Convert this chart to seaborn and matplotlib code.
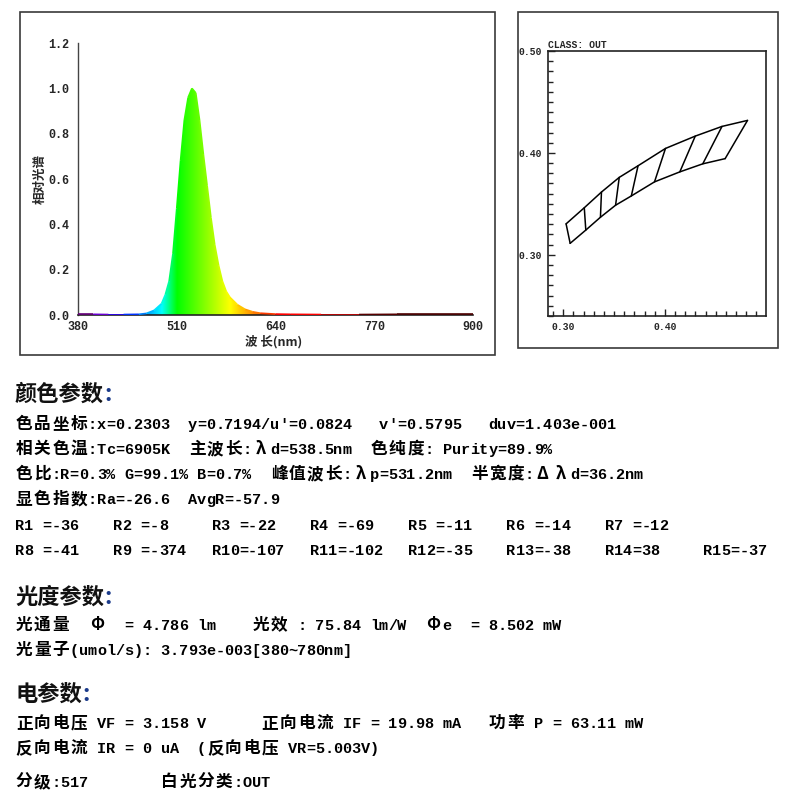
import numpy as np
import pandas as pd
import matplotlib
matplotlib.use('Agg')
import matplotlib.pyplot as plt
from matplotlib import font_manager
from matplotlib.patches import Rectangle, Polygon
from matplotlib.collections import LineCollection
from matplotlib.ticker import MultipleLocator, FixedLocator, FormatStrFormatter
import seaborn as sns

###############################################################################

# relative spectrum
wavelengths = [380, 400, 420, 440, 460, 470, 480, 490, 495, 500, 505, 510,
               515, 520, 525, 530, 535, 540, 545, 550, 555, 560, 565, 570,
               575, 580, 590, 600, 610, 620, 640, 660, 700, 750, 800, 850, 900]
rel_power = [0.003, 0.003, 0.002, 0.002, 0.003, 0.007, 0.02, 0.05, 0.09,
             0.15, 0.27, 0.47, 0.68, 0.86, 0.96, 1.0, 0.98, 0.86, 0.71, 0.57,
             0.43, 0.31, 0.22, 0.15, 0.105, 0.078, 0.045, 0.025, 0.014, 0.008,
             0.004, 0.003, 0.002, 0.002, 0.003, 0.003, 0.003]

spec_xticks = [380, 510, 640, 770, 900]
spec_yticks = [0.0, 0.2, 0.4, 0.6, 0.8, 1.0, 1.2]

# white bin quadrangles (upper and lower edge corners)
bin_top_x = [0.3028, 0.3207, 0.3376, 0.3551, 0.3736, 0.4006, 0.4299, 0.4562, 0.4813]
bin_top_y = [0.3304, 0.3462, 0.3616, 0.3760, 0.3874, 0.4044, 0.4165, 0.4260, 0.4319]
bin_bot_x = [0.3068, 0.3222, 0.3366, 0.3515, 0.3670, 0.3898, 0.4147, 0.4373, 0.4593]
bin_bot_y = [0.3113, 0.3243, 0.3369, 0.3487, 0.3578, 0.3716, 0.3814, 0.3893, 0.3944]

cie_xticks = [0.30, 0.40]
cie_yticks = [0.30, 0.40, 0.50]

color_lines = [
    "色品坐标:x=0.2303  y=0.7194/u'=0.0824   v'=0.5795   duv=1.403e-001",
    "相关色温:Tc=6905K  主波长:λd=538.5nm  色纯度: Purity=89.9%",
    "色比:R=0.3% G=99.1% B=0.7%  峰值波长:λp=531.2nm  半宽度:Δλd=36.2nm",
    "显色指数:Ra=-26.6  AvgR=-57.9",
]
r_values = [-36, -8, -22, -69, -11, -14, -12,
            -41, -374, -107, -102, -35, -38, 38, -37]
photo_lines = [
    "光通量  Φ  = 4.786 lm    光效 : 75.84 lm/W  Φe  = 8.502 mW",
    "光量子(umol/s): 3.793e-003[380~780nm]",
]
elec_lines = [
    "正向电压 VF = 3.158 V      正向电流 IF = 19.98 mA   功率 P = 63.11 mW",
    "反向电流 IR = 0 uA  (反向电压 VR=5.003V)",
]
grade_line = "分级:517        白光分类:OUT"

###############################################################################

sns.set_style('white')

CJK_FAMILY = ['Noto Sans CJK SC', 'DejaVu Sans']
LAT_NAME = 'Liberation Mono'
LAT_SIZE = 11
for cand, sz in [('Liberation Sans Narrow', 13)]:
    try:
        font_manager.findfont(cand, fallback_to_default=False)
        LAT_NAME, LAT_SIZE = cand, sz
        break
    except ValueError:
        pass
LAT_FAMILY = [LAT_NAME, 'DejaVu Sans']
TICK_FAMILY = ['Liberation Mono', 'DejaVu Sans Mono']
plt.rcParams['font.family'] = CJK_FAMILY

PX = 800.0
HALF = 9.1
FULL = 18.2


def wavelength_rgb(w):
    if w < 440:
        r, g, b = (440 - w) / 60.0, 0.0, 1.0
    elif w < 490:
        r, g, b = 0.0, (w - 440) / 50.0, 1.0
    elif w < 510:
        r, g, b = 0.0, 1.0, (510 - w) / 20.0
    elif w < 580:
        r, g, b = (w - 510) / 70.0, 1.0, 0.0
    elif w < 645:
        r, g, b = 1.0, (645 - w) / 65.0, 0.0
    else:
        r, g, b = 1.0, 0.0, 0.0
    if w < 420:
        f = 0.3 + 0.7 * (w - 380) / 40.0
    elif w <= 700:
        f = 1.0
    else:
        f = max(0.3 + 0.7 * (780 - w) / 80.0, 0.3)
    return (r * f, g * f, b * f)


fig = plt.figure(figsize=(8, 8), dpi=100)


def put_line(x_px, y_px, s, cjk_size=12):
    # monospace layout: CJK cells are twice as wide as latin cells
    base = y_px + 6
    x = x_px
    for ch in s:
        wide = ord(ch) >= 0x2E80 or ch in 'ΦλΔ'
        w = FULL if wide else HALF
        if ch != ' ':
            if wide:
                fam, size = CJK_FAMILY, cjk_size
            else:
                fam, size = LAT_FAMILY, LAT_SIZE
            fig.text((x + w / 2) / PX, 1 - base / PX, ch, ha='center',
                     va='baseline', family=fam, fontsize=size,
                     weight='bold', color='black')
        x += w


def put_heading(x_px, y_px, s):
    fig.text(x_px / PX, 1 - (y_px + 8) / PX, s, ha='left', va='baseline',
             family=CJK_FAMILY, fontsize=16, weight='bold', color='#111111')
    fig.text((x_px + 22 * len(s) + 1) / PX, 1 - (y_px + 8) / PX, ':',
             ha='left', va='baseline', family=CJK_FAMILY, fontsize=16,
             weight='bold', color='#1a3a8a')


# outer frames
for (x0, y0, x1, y1) in [(20, 12, 495, 355), (518, 12, 778, 348)]:
    fig.add_artist(Rectangle((x0 / PX, 1 - y1 / PX), (x1 - x0) / PX,
                             (y1 - y0) / PX, transform=fig.transFigure,
                             fill=False, edgecolor='#3a3a3a', linewidth=1.2))

###############################################################################
# spectrum

ax = fig.add_axes([78 / PX, 1 - 315 / PX, 395 / PX, 272 / PX])

verts = np.column_stack([np.r_[wavelengths[0], wavelengths, wavelengths[-1]],
                         np.r_[0, rel_power, 0]])
clip = Polygon(verts, closed=True, facecolor='none', edgecolor='none')
ax.add_patch(clip)
grad_wl = np.linspace(380, 900, 1041)
grad = np.array([wavelength_rgb(w) for w in grad_wl])[np.newaxis, :, :]
im = ax.imshow(grad, extent=[380, 900, 0, 1.2], aspect='auto',
               origin='lower', interpolation='bilinear')
im.set_clip_path(clip)

pts = np.column_stack([wavelengths, rel_power])
segs = np.stack([pts[:-1], pts[1:]], axis=1)
seg_cols = [wavelength_rgb(0.5 * (a + b))
            for a, b in zip(wavelengths[:-1], wavelengths[1:])]
ax.add_collection(LineCollection(segs, colors=seg_cols, linewidths=1.2,
                                 zorder=3))

ax.set_xlim(380, 900)
ax.set_ylim(0, 1.2)
ax.set_xticks(spec_xticks)
ax.set_yticks(spec_yticks)
ax.yaxis.set_major_formatter(FormatStrFormatter('%.1f'))
for side in ['top', 'right']:
    ax.spines[side].set_visible(False)
ax.spines['left'].set_color('#444444')
ax.spines['left'].set_linewidth(1.0)
ax.spines['bottom'].set_color('#222222')
ax.spines['bottom'].set_linewidth(1.2)
ax.tick_params(axis='y', direction='out', length=4, width=1,
               color='#444444', pad=2)
ax.tick_params(axis='x', direction='out', length=2, width=1,
               color='#222222', pad=2)
for lab in ax.get_xticklabels() + ax.get_yticklabels():
    lab.set_family(TICK_FAMILY)
    lab.set_fontsize(8.5)
    lab.set_fontweight('bold')
ax.text(0.496, -0.099, '波 长(nm)', transform=ax.transAxes, ha='center',
        va='center', family=CJK_FAMILY, fontsize=9, weight='bold')
ax.text((40 - 78) / 395.0, 0.5, '相对光谱', transform=ax.transAxes,
        ha='center', va='center', rotation=90, family=CJK_FAMILY,
        fontsize=9, weight='bold')

###############################################################################
# white bin chart

ax2 = fig.add_axes([548 / PX, 1 - 316 / PX, 218 / PX, 265 / PX])

rows = []
for i in range(len(bin_top_x)):
    rows.append(('top', bin_top_x[i], bin_top_y[i]))
for i in range(len(bin_bot_x)):
    rows.append(('bot', bin_bot_x[i], bin_bot_y[i]))
for i in range(len(bin_top_x)):
    rows.append(('side%d' % i, bin_top_x[i], bin_top_y[i]))
    rows.append(('side%d' % i, bin_bot_x[i], bin_bot_y[i]))
bins_df = pd.DataFrame(rows, columns=['seg', 'x', 'y'])

sns.lineplot(data=bins_df, x='x', y='y', units='seg', estimator=None,
             sort=False, color='black', linewidth=1.1, ax=ax2)

ax2.set_xlim(0.285, 0.4995)
ax2.set_ylim(0.24, 0.50)
ax2.set_xlabel('')
ax2.set_ylabel('')
ax2.xaxis.set_major_locator(FixedLocator(cie_xticks))
ax2.yaxis.set_major_locator(FixedLocator(cie_yticks))
ax2.xaxis.set_minor_locator(MultipleLocator(0.01))
ax2.yaxis.set_minor_locator(MultipleLocator(0.01))
ax2.xaxis.set_major_formatter(FormatStrFormatter('%.2f'))
ax2.yaxis.set_major_formatter(FormatStrFormatter('%.2f'))
for side in ax2.spines:
    ax2.spines[side].set_color('#222222')
    ax2.spines[side].set_linewidth(1.2)
ax2.tick_params(which='major', direction='in', length=5, width=1.0,
                color='#222222', pad=4, bottom=True, left=True)
ax2.tick_params(which='minor', direction='in', length=3.5, width=1.0,
                color='#222222', bottom=True, left=True)
for lab in ax2.get_xticklabels() + ax2.get_yticklabels():
    lab.set_family(TICK_FAMILY)
    lab.set_fontsize(7)
    lab.set_fontweight('bold')
fig.text(548 / PX, 1 - 48 / PX, 'CLASS: OUT', ha='left', va='baseline',
         family=TICK_FAMILY, fontsize=7, weight='bold')

###############################################################################
# report text

put_heading(15, 393, '颜色参数')
for k, line in enumerate(color_lines):
    put_line(15, 423 + 25 * k, line)

for k, v in enumerate(r_values):
    name = ('R%d' % (k + 1)).ljust(3)
    row, col = divmod(k, 7) if k < 14 else (1, 7)
    put_line(15 + 98.3 * col, 524 + 25 * row, '%s=%d' % (name, v))

put_heading(15, 596, '光度参数')
for k, line in enumerate(photo_lines):
    put_line(15, 624 + 25 * k, line)

put_heading(15, 693, '电参数')
for k, line in enumerate(elec_lines):
    put_line(15, 722 + 25 * k, line)

put_line(15, 781, grade_line)

fig.savefig('out.png', dpi=100, facecolor='white')
